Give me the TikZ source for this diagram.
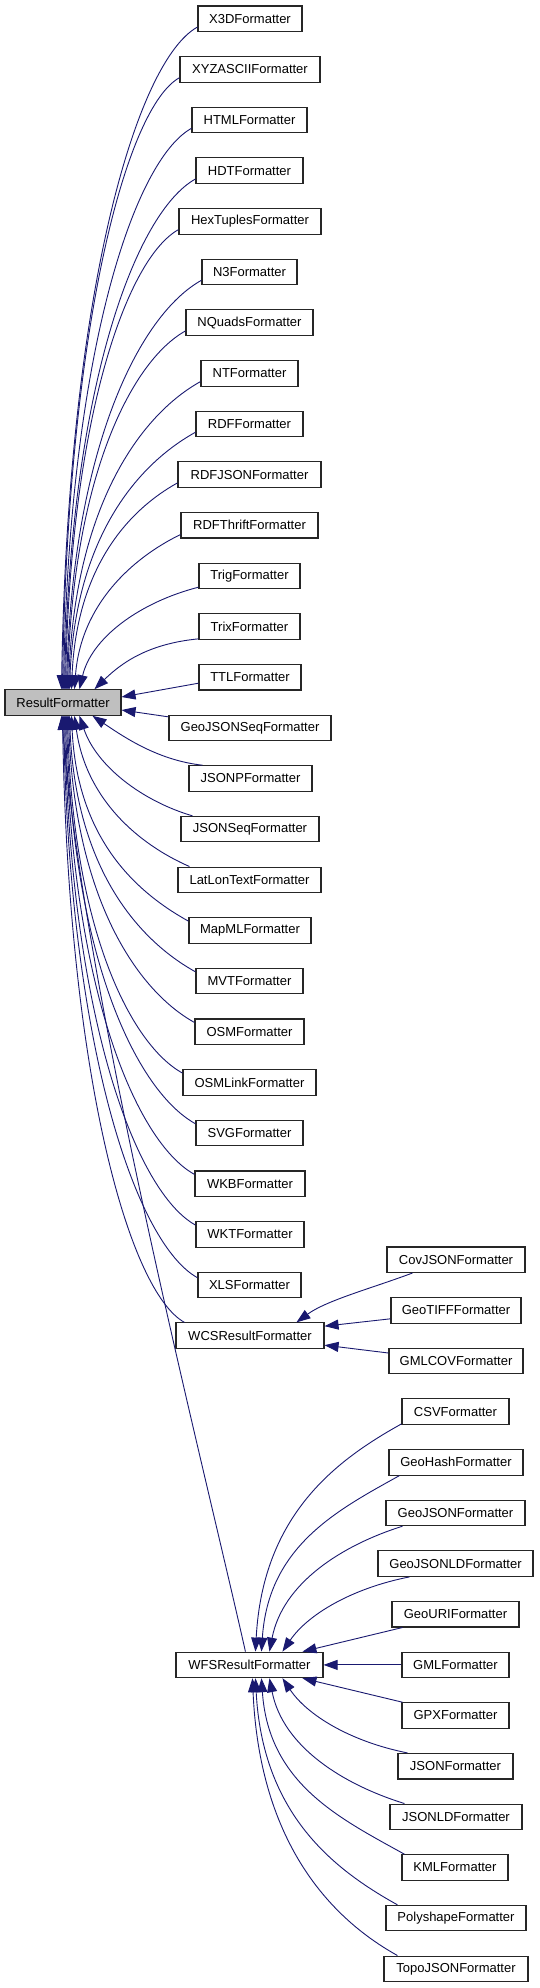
\documentclass[tikz,border=0pt]{standalone}
\usepackage{fontspec}
\setmainfont{Liberation Sans}
\usetikzlibrary{arrows.meta,calc}
\definecolor{edgeblue}{RGB}{25,25,112}
\definecolor{rfgray}{RGB}{191,191,191}
\newcommand\inh[3]{%
  \draw[inh] let \p1=(#1), \p2=(#2) in (\p1) .. controls ({\x1+0.05*(\x2-\x1)},{\y1+0.6*(\y2-\y1)}) and ({\x2-0.45*(\x2-\x1)},{\y2-(#3)*0.25*(\x2-\x1)}) .. (\p2);%
}
\newcommand\inhc[6]{%
  \draw[inh] let \p1=(#1), \p2=(#2) in (\p1) .. controls ({\x1+#3*(\x2-\x1)},{\y1+#4*(\y2-\y1)}) and ({\x2-#5*(\x2-\x1)},{\y2-#6*(\y2-\y1)}) .. (\p2);%
}
\begin{document}
\begin{tikzpicture}[x=1pt,y=-1pt,
  bx/.style={draw=black!85,line width=1.1pt,fill=white,rectangle,inner sep=0pt,minimum height=25.5pt,font=\fontsize{13}{15}\selectfont},
  inh/.style={draw=edgeblue,line width=0.9pt,{Triangle[length=14pt,width=10pt]}-}]
\fill[white] (0,0) rectangle (539,1988);
\useasboundingbox (0,0) rectangle (539,1988);
% left column
\node[bx,minimum width=104pt] (x3d) at (250,18.75) {X3DFormatter};
\node[bx,minimum width=140pt] (xyz) at (250,69.4) {XYZASCIIFormatter};
\node[bx,minimum width=115pt] (html) at (249.5,120.05) {HTMLFormatter};
\node[bx,minimum width=107pt] (hdt) at (249.5,170.7) {HDTFormatter};
\node[bx,minimum width=142pt] (hex) at (250,221.35) {HexTuplesFormatter};
\node[bx,minimum width=95pt] (nthree) at (249.5,272.0) {N3Formatter};
\node[bx,minimum width=127pt] (nquads) at (249.5,322.65) {NQuadsFormatter};
\node[bx,minimum width=97pt] (nt) at (249.5,373.3) {NTFormatter};
\node[bx,minimum width=107pt] (rdf) at (249.5,423.95) {RDFFormatter};
\node[bx,minimum width=143pt] (rdfjson) at (249.5,474.6) {RDFJSONFormatter};
\node[bx,minimum width=137pt] (rdfthrift) at (249.5,525.25) {RDFThriftFormatter};
\node[bx,minimum width=101pt] (trig) at (249.5,575.9) {TrigFormatter};
\node[bx,minimum width=101pt] (trix) at (249.5,626.55) {TrixFormatter};
\node[bx,minimum width=102pt] (ttl) at (250,677.2) {TTLFormatter};
\node[bx,minimum width=116pt,fill=rfgray] (rf) at (63,702.5) {ResultFormatter};
\node[bx,minimum width=162pt] (gjseq) at (250,727.85) {GeoJSONSeqFormatter};
\node[bx,minimum width=123pt] (jsonp) at (250.5,778.5) {JSONPFormatter};
\node[bx,minimum width=138pt] (jsonseq) at (250,829.15) {JSONSeqFormatter};
\node[bx,minimum width=143pt] (latlon) at (249.5,879.8) {LatLonTextFormatter};
\node[bx,minimum width=122pt] (mapml) at (250,930.45) {MapMLFormatter};
\node[bx,minimum width=107pt] (mvt) at (249.5,981.1) {MVTFormatter};
\node[bx,minimum width=109pt] (osm) at (249.5,1031.75) {OSMFormatter};
\node[bx,minimum width=133pt] (osmlink) at (249.5,1082.4) {OSMLinkFormatter};
\node[bx,minimum width=107pt] (svg) at (249.5,1133.05) {SVGFormatter};
\node[bx,minimum width=110pt] (wkb) at (250,1183.7) {WKBFormatter};
\node[bx,minimum width=108pt] (wkt) at (250,1234.35) {WKTFormatter};
\node[bx,minimum width=103pt] (xls) at (249.5,1285.0) {XLSFormatter};
\node[bx,minimum width=148pt] (wcs) at (250,1335.65) {WCSResultFormatter};
\node[bx,minimum width=147pt] (wfs) at (249.5,1664.9) {WFSResultFormatter};
% right column
\node[bx,minimum width=138pt] (cov) at (456,1259.7) {CovJSONFormatter};
\node[bx,minimum width=130pt] (tiff) at (456,1310.3) {GeoTIFFFormatter};
\node[bx,minimum width=134pt] (gmlcov) at (456,1361.0) {GMLCOVFormatter};
\node[bx,minimum width=107pt] (csv) at (455.5,1411.6) {CSVFormatter};
\node[bx,minimum width=134pt] (geohash) at (456,1462.3) {GeoHashFormatter};
\node[bx,minimum width=139pt] (geojson) at (455.5,1512.9) {GeoJSONFormatter};
\node[bx,minimum width=155pt] (geojsonld) at (455.5,1563.6) {GeoJSONLDFormatter};
\node[bx,minimum width=127pt] (geouri) at (455.5,1614.2) {GeoURIFormatter};
\node[bx,minimum width=107pt] (gml) at (455.5,1664.9) {GMLFormatter};
\node[bx,minimum width=107pt] (gpx) at (455.5,1715.5) {GPXFormatter};
\node[bx,minimum width=115pt] (json) at (455.5,1766.2) {JSONFormatter};
\node[bx,minimum width=132pt] (jsonld) at (456,1816.8) {JSONLDFormatter};
\node[bx,minimum width=106pt] (kml) at (455,1867.5) {KMLFormatter};
\node[bx,minimum width=140pt] (poly) at (456,1918.1) {PolyshapeFormatter};
\node[bx,minimum width=144pt] (topo) at (456,1968.8) {TopoJSONFormatter};
% edges to ResultFormatter (upper)
\inh{[xshift=57pt]rf.north west}{[yshift=5pt]x3d.south west}{1}
\inh{[xshift=58pt]rf.north west}{[yshift=5pt]xyz.south west}{1}
\inh{[xshift=59pt]rf.north west}{[yshift=5pt]html.south west}{1}
\inh{[xshift=60pt]rf.north west}{[yshift=5pt]hdt.south west}{1}
\inh{[xshift=61pt]rf.north west}{[yshift=5pt]hex.south west}{1}
\inh{[xshift=62pt]rf.north west}{[yshift=5pt]nthree.south west}{1}
\inh{[xshift=63pt]rf.north west}{[yshift=5pt]nquads.south west}{1}
\inh{[xshift=64pt]rf.north west}{[yshift=5pt]nt.south west}{1}
\inh{[xshift=65pt]rf.north west}{[yshift=5pt]rdf.south west}{1}
\inh{[xshift=67pt]rf.north west}{[yshift=5pt]rdfjson.south west}{1}
\inhc{[xshift=70pt]rf.north west}{[yshift=4pt]rdfthrift.south west}{0.06}{0.55}{0.45}{0.15}
\inhc{[xshift=75pt]rf.north west}{[yshift=2pt]trig.south west}{0.1}{0.5}{0.5}{0.15}
\inhc{[xshift=90pt]rf.north west}{[yshift=1pt]trix.south west}{0.25}{0.5}{0.5}{0.1}
\draw[inh] ([yshift=5.5pt]rf.east) -- ([yshift=-6pt]ttl.west);
\draw[inh] ([yshift=-7.5pt]rf.east) -- ([yshift=11pt]gjseq.west);
% edges to ResultFormatter (lower)
\inhc{[xshift=88pt]rf.south west}{[xshift=14pt]jsonp.north west}{0.3}{0.45}{0.4}{0.1}
\inhc{[xshift=75pt]rf.south west}{[xshift=12pt]jsonseq.north west}{0.15}{0.5}{0.45}{0.15}
\inhc{[xshift=70pt]rf.south west}{[xshift=12pt]latlon.north west}{0.1}{0.55}{0.45}{0.15}
\inh{[xshift=67pt]rf.south west}{[yshift=-4pt]mapml.north west}{-1}
\inh{[xshift=65pt]rf.south west}{[yshift=-4pt]mvt.north west}{-1}
\inh{[xshift=64pt]rf.south west}{[yshift=-4pt]osm.north west}{-1}
\inh{[xshift=63pt]rf.south west}{[yshift=-4pt]osmlink.north west}{-1}
\inh{[xshift=62pt]rf.south west}{[yshift=-4pt]svg.north west}{-1}
\inh{[xshift=61pt]rf.south west}{[yshift=-4pt]wkb.north west}{-1}
\inh{[xshift=60pt]rf.south west}{[yshift=-4pt]wkt.north west}{-1}
\inh{[xshift=59pt]rf.south west}{[yshift=-6pt]xls.north west}{-1}
\inh{[xshift=58pt]rf.south west}{[xshift=9pt]wcs.north west}{-1}
\draw[inh] ([xshift=57pt]rf.south west) .. controls +(25,290) and +(-45,-200) .. ([xshift=70pt]wfs.north west);
% WCS subtree
\draw[inh] ([xshift=121pt]wcs.north west) .. controls +(30,-22) and +(-40,15) .. ([xshift=26pt]cov.south west);
\draw[inh] ([yshift=9.5pt]wcs.east) -- ([yshift=-8.5pt]tiff.west);
\draw[inh] ([yshift=-9.5pt]wcs.east) -- ([yshift=8pt]gmlcov.west);
% WFS subtree
\inh{[xshift=80pt]wfs.north west}{[yshift=1pt]csv.south west}{1}
\inh{[xshift=86pt]wfs.north west}{[xshift=11pt]geohash.south west}{1}
\inhc{[xshift=94pt]wfs.north west}{[xshift=17pt]geojson.south west}{0.1}{0.55}{0.45}{0.15}
\inhc{[xshift=107pt]wfs.north west}{[xshift=32pt]geojsonld.south west}{0.2}{0.5}{0.45}{0.15}
\draw[inh] ([xshift=127pt]wfs.north west) -- ([xshift=11pt]geouri.south west);
\draw[inh] (wfs.east) -- (gml.west);
\draw[inh] ([xshift=127pt]wfs.south west) -- ([xshift=1pt]gpx.north west);
\inhc{[xshift=107pt]wfs.south west}{[xshift=10pt]json.north west}{0.2}{0.5}{0.45}{0.15}
\inhc{[xshift=94pt]wfs.south west}{[xshift=15pt]jsonld.north west}{0.1}{0.55}{0.45}{0.15}
\inh{[xshift=86pt]wfs.south west}{[xshift=3pt]kml.north west}{-1}
\inh{[xshift=80pt]wfs.south west}{[xshift=12pt]poly.north west}{-1}
\inh{[xshift=77pt]wfs.south west}{[xshift=14pt]topo.north west}{-1}
\end{tikzpicture}
\end{document}
